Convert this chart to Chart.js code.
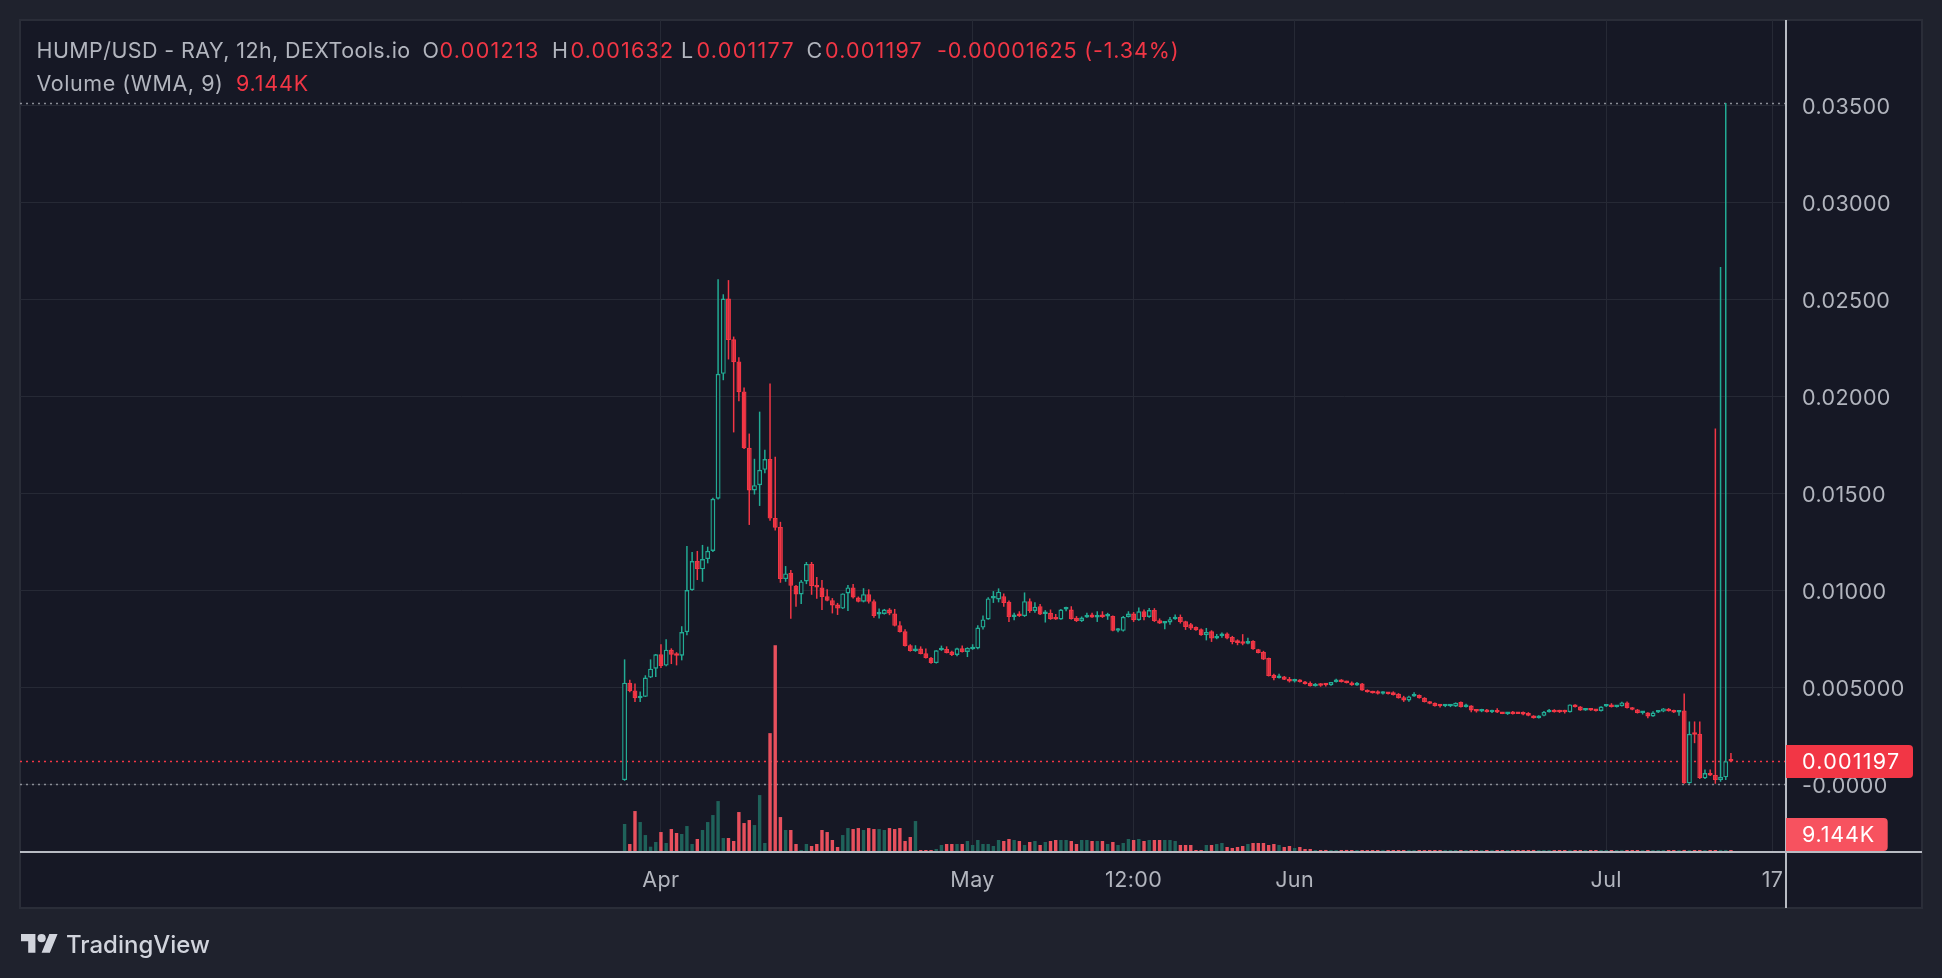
<!DOCTYPE html>
<html><head><meta charset="utf-8">
<script src="https://cdn.jsdelivr.net/npm/chart.js@4.4.1/dist/chart.umd.min.js"></script>
<style>html,body{margin:0;padding:0;background:#1f222d;overflow:hidden}canvas{display:block}</style>
</head><body>
<canvas id="c" width="1942" height="978"></canvas>
<script>
// ---------------- DATA ----------------
const symbolTitle = 'HUMP/USD - RAY, 12h, DEXTools.io';
const volumeTitle = 'Volume (WMA, 9)';
const firstCandle = '2024-03-28T12:00:00Z';   // 12h candles
const opens = [
0.00024,0.00526,0.00486,0.00446,0.00453,0.00552,0.00598,0.00672,0.00614,0.00696,
0.00674,0.00665,0.00787,0.01003,0.01153,0.01110,0.01163,0.01205,0.01474,0.02118,
0.02506,0.02296,0.02182,0.02027,0.01737,0.01517,0.01544,0.01623,0.01679,0.01375,
0.01329,0.01060,0.01093,0.01025,0.00981,0.01048,0.01138,0.01024,0.01017,0.00972,
0.00951,0.00929,0.00908,0.00986,0.01017,0.00965,0.00943,0.00982,0.00946,0.00877,
0.00880,0.00903,0.00883,0.00822,0.00791,0.00719,0.00689,0.00702,0.00677,0.00655,
0.00627,0.00693,0.00700,0.00686,0.00669,0.00703,0.00684,0.00698,0.00702,0.00810,
0.00852,0.00960,0.00955,0.00972,0.00943,0.00865,0.00877,0.00869,0.00946,0.00896,
0.00920,0.00880,0.00886,0.00865,0.00852,0.00903,0.00903,0.00860,0.00844,0.00862,
0.00877,0.00862,0.00874,0.00867,0.00869,0.00793,0.00793,0.00865,0.00882,0.00848,
0.00894,0.00865,0.00900,0.00848,0.00831,0.00836,0.00853,0.00865,0.00842,0.00827,
0.00813,0.00801,0.00770,0.00791,0.00753,0.00767,0.00780,0.00762,0.00744,0.00739,
0.00727,0.00741,0.00698,0.00684,0.00653,0.00567,0.00550,0.00558,0.00544,0.00532,
0.00541,0.00532,0.00524,0.00508,0.00521,0.00515,0.00512,0.00529,0.00541,0.00532,
0.00527,0.00512,0.00522,0.00490,0.00482,0.00479,0.00469,0.00476,0.00476,0.00469,
0.00451,0.00434,0.00455,0.00462,0.00448,0.00429,0.00422,0.00408,0.00405,0.00405,
0.00403,0.00426,0.00400,0.00408,0.00388,0.00377,0.00388,0.00374,0.00382,0.00374,
0.00365,0.00376,0.00372,0.00372,0.00369,0.00357,0.00343,0.00355,0.00374,0.00386,
0.00379,0.00381,0.00374,0.00414,0.00403,0.00383,0.00393,0.00388,0.00380,0.00403,
0.00412,0.00400,0.00405,0.00424,0.00398,0.00388,0.00369,0.00372,0.00352,0.00372,
0.00377,0.00391,0.00383,0.00372,0.00383,0.00007,0.00265,0.00262,0.00033,0.00060,
0.00050,0.00024,0.00038,0.001213];
const highs = [
0.00646,0.00541,0.00522,0.00481,0.00564,0.00646,0.00674,0.00724,0.00750,0.00703,
0.00683,0.00817,0.01231,0.01200,0.01205,0.01236,0.01227,0.01479,0.02606,0.02528,
0.02601,0.02310,0.02203,0.02048,0.01810,0.01680,0.01923,0.01727,0.02068,0.01691,
0.01355,0.01127,0.01107,0.01030,0.01055,0.01148,0.01148,0.01070,0.01055,0.01007,
0.00962,0.00937,0.00986,0.01029,0.01034,0.00970,0.01013,0.01007,0.00955,0.00908,
0.00906,0.00910,0.00906,0.00843,0.00801,0.00724,0.00719,0.00713,0.00702,0.00658,
0.00693,0.00717,0.00713,0.00690,0.00706,0.00717,0.00708,0.00724,0.00822,0.00872,
0.00966,0.00998,0.01012,0.00986,0.00950,0.00886,0.00894,0.00991,0.00960,0.00940,
0.00932,0.00900,0.00903,0.00880,0.00906,0.00917,0.00920,0.00869,0.00867,0.00886,
0.00886,0.00894,0.00894,0.00886,0.00872,0.00808,0.00869,0.00894,0.00890,0.00914,
0.00903,0.00911,0.00910,0.00857,0.00842,0.00865,0.00877,0.00877,0.00845,0.00834,
0.00816,0.00805,0.00808,0.00796,0.00777,0.00784,0.00784,0.00767,0.00749,0.00776,
0.00758,0.00745,0.00700,0.00690,0.00655,0.00572,0.00572,0.00560,0.00555,0.00546,
0.00544,0.00534,0.00532,0.00524,0.00524,0.00524,0.00530,0.00546,0.00544,0.00536,
0.00532,0.00529,0.00524,0.00491,0.00484,0.00486,0.00482,0.00477,0.00481,0.00472,
0.00458,0.00458,0.00477,0.00465,0.00451,0.00431,0.00424,0.00413,0.00413,0.00415,
0.00424,0.00429,0.00417,0.00410,0.00390,0.00391,0.00390,0.00386,0.00394,0.00375,
0.00375,0.00380,0.00374,0.00377,0.00374,0.00358,0.00358,0.00380,0.00390,0.00389,
0.00386,0.00386,0.00414,0.00415,0.00405,0.00395,0.00395,0.00390,0.00405,0.00415,
0.00420,0.00410,0.00427,0.00429,0.00400,0.00390,0.00380,0.00374,0.00379,0.00382,
0.00395,0.00395,0.00386,0.00384,0.00470,0.00326,0.00326,0.00326,0.00078,0.00078,
0.01836,0.02669,0.03514,0.001632];
const lows = [
0.00020,0.00477,0.00426,0.00426,0.00452,0.00550,0.00555,0.00601,0.00610,0.00622,
0.00615,0.00641,0.00770,0.01000,0.01055,0.01046,0.01141,0.01200,0.01470,0.02085,
0.02192,0.01816,0.01977,0.01730,0.01339,0.01496,0.01437,0.01606,0.01361,0.01310,
0.01041,0.01046,0.00855,0.00917,0.00931,0.01034,0.00979,0.00958,0.00901,0.00945,
0.00883,0.00875,0.00906,0.00896,0.00960,0.00940,0.00940,0.00934,0.00860,0.00857,
0.00877,0.00874,0.00816,0.00784,0.00713,0.00686,0.00685,0.00672,0.00651,0.00624,
0.00625,0.00690,0.00677,0.00664,0.00662,0.00682,0.00658,0.00695,0.00698,0.00800,
0.00850,0.00937,0.00940,0.00917,0.00839,0.00848,0.00865,0.00865,0.00886,0.00886,
0.00875,0.00836,0.00850,0.00850,0.00850,0.00894,0.00851,0.00839,0.00839,0.00860,
0.00860,0.00839,0.00860,0.00850,0.00791,0.00786,0.00790,0.00862,0.00839,0.00845,
0.00848,0.00860,0.00839,0.00829,0.00801,0.00824,0.00850,0.00831,0.00798,0.00798,
0.00793,0.00768,0.00744,0.00736,0.00750,0.00758,0.00750,0.00724,0.00719,0.00719,
0.00724,0.00696,0.00677,0.00643,0.00558,0.00538,0.00548,0.00540,0.00527,0.00527,
0.00527,0.00517,0.00506,0.00506,0.00505,0.00506,0.00510,0.00527,0.00527,0.00522,
0.00510,0.00510,0.00484,0.00475,0.00470,0.00465,0.00465,0.00465,0.00460,0.00444,
0.00427,0.00427,0.00453,0.00444,0.00424,0.00415,0.00403,0.00398,0.00400,0.00400,
0.00401,0.00398,0.00398,0.00374,0.00372,0.00374,0.00372,0.00370,0.00369,0.00364,
0.00360,0.00362,0.00364,0.00358,0.00353,0.00341,0.00341,0.00353,0.00372,0.00372,
0.00370,0.00367,0.00372,0.00398,0.00381,0.00381,0.00381,0.00377,0.00377,0.00401,
0.00398,0.00398,0.00403,0.00393,0.00384,0.00367,0.00362,0.00343,0.00350,0.00370,
0.00374,0.00377,0.00370,0.00355,0.00005,0.00005,0.00214,0.00030,0.00030,0.00045,
0.00005,0.00015,0.00024,0.001177];
const closes = [
0.00526,0.00482,0.00446,0.00455,0.00552,0.00598,0.00672,0.00612,0.00696,0.00670,
0.00665,0.00787,0.01003,0.01153,0.01110,0.01163,0.01205,0.01474,0.02118,0.02506,
0.02292,0.02178,0.02023,0.01734,0.01517,0.01544,0.01623,0.01679,0.01372,0.01325,
0.01060,0.01089,0.01025,0.00981,0.01048,0.01138,0.01024,0.01017,0.00968,0.00948,
0.00924,0.00908,0.00986,0.01017,0.00965,0.00943,0.00982,0.00943,0.00870,0.00886,
0.00903,0.00883,0.00819,0.00787,0.00715,0.00689,0.00702,0.00674,0.00653,0.00627,
0.00693,0.00698,0.00679,0.00669,0.00703,0.00684,0.00705,0.00707,0.00810,0.00852,
0.00960,0.00969,0.00995,0.00937,0.00865,0.00874,0.00869,0.00946,0.00896,0.00917,
0.00877,0.00886,0.00853,0.00852,0.00903,0.00908,0.00853,0.00844,0.00862,0.00874,
0.00862,0.00874,0.00865,0.00872,0.00793,0.00800,0.00865,0.00882,0.00848,0.00894,
0.00865,0.00900,0.00844,0.00831,0.00839,0.00853,0.00865,0.00839,0.00813,0.00805,
0.00796,0.00770,0.00787,0.00753,0.00767,0.00780,0.00753,0.00736,0.00731,0.00727,
0.00741,0.00698,0.00679,0.00645,0.00560,0.00550,0.00558,0.00541,0.00532,0.00541,
0.00529,0.00519,0.00508,0.00521,0.00510,0.00512,0.00529,0.00541,0.00529,0.00524,
0.00512,0.00526,0.00486,0.00477,0.00472,0.00469,0.00479,0.00467,0.00462,0.00446,
0.00434,0.00455,0.00465,0.00446,0.00426,0.00417,0.00405,0.00405,0.00410,0.00410,
0.00422,0.00400,0.00412,0.00383,0.00377,0.00386,0.00374,0.00382,0.00372,0.00365,
0.00374,0.00365,0.00365,0.00362,0.00355,0.00343,0.00357,0.00376,0.00386,0.00374,
0.00374,0.00374,0.00414,0.00400,0.00383,0.00393,0.00383,0.00380,0.00403,0.00412,
0.00400,0.00408,0.00424,0.00395,0.00386,0.00369,0.00376,0.00352,0.00372,0.00379,
0.00393,0.00379,0.00372,0.00383,0.00007,0.00262,0.00258,0.00033,0.00060,0.00048,
0.00024,0.00041,0.00121325,0.001197];
const volumes = [   // K
127.9,36.5,187.2,137.0,77.6,24.2,45.7,91.3,41.1,105.0,
86.8,82.2,118.7,36.5,59.4,100.5,137.0,169.0,232.9,63.9,
63.9,50.2,182.7,132.4,146.1,123.3,260.3,41.1,543.5,945.4,
159.8,100.5,100.5,36.5,9.1,36.5,27.4,36.5,100.5,91.3,
54.8,22.8,77.6,109.6,105.0,109.6,100.5,109.6,105.0,105.0,
100.5,109.6,105.0,109.6,50.2,68.5,141.6,9.1,9.1,9.1,
13.7,32.0,36.5,36.5,36.5,36.5,50.2,32.0,54.8,36.5,
36.5,27.4,54.8,50.2,59.4,54.8,50.2,32.0,45.7,50.2,
32.0,45.7,50.2,54.8,54.8,54.8,50.2,36.5,54.8,54.8,
50.2,50.2,50.2,36.5,45.7,32.0,41.1,59.4,54.8,59.4,
50.2,54.8,54.8,54.8,54.8,54.8,50.2,32.0,32.0,32.0,
9.1,9.1,32.0,32.0,36.5,41.1,22.8,18.3,22.8,27.4,
36.5,41.1,41.1,41.1,32.0,36.5,32.0,22.8,27.4,18.3,
22.8,13.7,13.7,9.1,9.1,9.4,9.1,8.8,9.1,9.4,
9.1,9.1,9.1,8.8,9.1,9.1,9.4,9.1,9.1,9.1,
9.1,9.4,9.1,9.1,8.8,9.1,9.1,9.1,9.4,9.1,
9.1,9.1,9.1,9.1,8.8,9.1,9.1,9.4,9.1,9.1,
9.1,9.1,9.1,9.1,9.1,9.4,9.1,9.1,9.1,8.8,
9.1,9.1,9.4,9.1,9.1,9.1,9.1,9.1,9.1,9.1,
9.1,9.1,9.4,9.1,9.1,9.1,8.8,9.1,9.1,9.1,
9.1,9.1,9.1,9.1,9.4,9.1,9.1,9.1,9.1,9.1,
9.1,9.4,9.4,9.144];
const timeTickDates = ['2024-04-01T00:00:00Z','2024-05-01T00:00:00Z','2024-05-16T12:00:00Z','2024-06-01T00:00:00Z','2024-07-01T00:00:00Z','2024-07-17T00:00:00Z'];
const timeTickLabels = ['Apr','May','12:00','Jun','Jul','17'];
const priceTicks = [0, 0.005, 0.01, 0.015, 0.02, 0.025, 0.03, 0.035];
const priceTickLabels = ['-0.0000','0.005000','0.01000','0.01500','0.02000','0.02500','0.03000','0.03500'];

// ---------------- STYLE ----------------
const UP='#22ab94', DOWN='#f23645', VUP='#1f625a', VDOWN='#e8505d';
const PANEL='#161825', OUTER='#1f222d', GRID='#262935', TEXT='#b2b5be', SCALELINE='#b8bbc3';
const FONT='Inter', FS=21.5;

const DAY0 = Date.parse(timeTickDates[0]);
const toDay = t => (Date.parse(t) - DAY0) / 864e5;
const candleTimes = opens.map((_, i) => new Date(Date.parse(firstCandle) + i * 12 * 3600e3).toISOString());
const xs = candleTimes.map(toDay);
const tickDays = timeTickDates.map(toDay);
const isUp = opens.map((o, i) => closes[i] >= o);
const last = closes.length - 1;

function dotted(ctx, x0, x1, y, color) {
  ctx.save(); ctx.strokeStyle = color; ctx.lineWidth = 1.3; ctx.setLineDash([2, 4]);
  ctx.beginPath(); ctx.moveTo(x0, Math.round(y) + 0.5); ctx.lineTo(x1, Math.round(y) + 0.5); ctx.stroke(); ctx.restore();
}
function box(ctx, x, y, w, h, r, color) {
  ctx.beginPath(); ctx.moveTo(x, y); ctx.lineTo(x + w - r, y); ctx.quadraticCurveTo(x + w, y, x + w, y + r);
  ctx.lineTo(x + w, y + h - r); ctx.quadraticCurveTo(x + w, y + h, x + w - r, y + h); ctx.lineTo(x, y + h); ctx.closePath();
  ctx.fillStyle = color; ctx.fill();
}

const decor = {
  id: 'decor',
  beforeDraw(chart) {
    const c = chart.ctx; c.save();
    c.fillStyle = OUTER; c.fillRect(0, 0, chart.width, chart.height);
    c.fillStyle = PANEL; c.fillRect(20, 20, 1902, 888);
    c.strokeStyle = '#2a2d38'; c.lineWidth = 2; c.strokeRect(20, 20, 1902, 888);
    c.restore();
    c.letterSpacing = '0.4px';
  },
  beforeDatasetsDraw(chart) {
    const c = chart.ctx, a = chart.chartArea, y = chart.scales.y;
    dotted(c, a.left, a.right, y.getPixelForValue(Math.max(...highs)), '#8a8d96');
    dotted(c, a.left, a.right, y.getPixelForValue(Math.min(...lows)), '#8a8d96');
    dotted(c, a.left, a.right, y.getPixelForValue(closes[last]), DOWN);
  },
  afterDraw(chart) {
    const c = chart.ctx, a = chart.chartArea, y = chart.scales.y, yv = chart.scales.yVol;
    c.save();
    // scale borders
    c.fillStyle = SCALELINE;
    c.fillRect(a.right - 1, 20, 2, 888);
    c.fillRect(20, a.bottom - 1, 1902, 2);
    // price label
    c.font = `${FS}px ${FONT}`; c.textBaseline = 'middle'; c.textAlign = 'left';
    const py = y.getPixelForValue(closes[last]);
    box(c, a.right, py - 16.5, 127, 33, 4, DOWN);
    c.letterSpacing = '1.25px';
    c.fillStyle = '#ffffff'; c.fillText(closes[last].toFixed(6), a.right + 16, py + 1);
    // volume label
    const vy = Math.min(yv.getPixelForValue(volumes[last]), a.bottom - 17.5);
    box(c, a.right, vy - 16.5, 101.7, 33, 4, '#f7525f');
    c.letterSpacing = '0.8px';
    c.fillStyle = '#ffffff'; c.fillText(volumes[last].toFixed(3) + 'K', a.right + 16, vy + 1);
    // legend
    c.textBaseline = 'alphabetic';
    const pc = closes[last - 1], ch = closes[last] - pc;
    const seg = (t, x, yy, col, ls) => { c.letterSpacing = ls + 'px'; c.fillStyle = col; c.fillText(t, x, yy); };
    seg(symbolTitle, 36.5, 58, TEXT, 0.4);
    seg('O', 422.5, 58, TEXT, 0); seg(opens[last].toFixed(6), 439.5, 58, DOWN, 1.3);
    seg('H', 552, 58, TEXT, 0); seg(highs[last].toFixed(6), 570.5, 58, DOWN, 1.2);
    seg('L', 681, 58, TEXT, 0); seg(lows[last].toFixed(6), 696.5, 58, DOWN, 1.3);
    seg('C', 806.5, 58, TEXT, 0); seg(closes[last].toFixed(6), 825, 58, DOWN, 1.2);
    seg(ch.toFixed(8) + ' (' + (ch / pc * 100).toFixed(2) + '%)', 937, 58, DOWN, 0.85);
    seg(volumeTitle, 36.5, 91, TEXT, 0.55); seg(volumes[last].toFixed(3) + 'K', 236, 91, DOWN, 0.8);
    // TradingView logo
    c.save(); c.translate(21, 930); c.scale(1.03, 1.03); c.fillStyle = '#d1d4dc';
    c.fill(new Path2D('M14 22H7V11H0V4h14v18zM28 22h-8l7.5-18h8L28 22z'));
    c.beginPath(); c.arc(20, 8, 4, 0, Math.PI * 2); c.fill(); c.restore();
    c.letterSpacing = '0px';
    c.font = `500 24px ${FONT}`; c.fillStyle = '#d1d4dc'; c.fillText('TradingView', 66, 953);
    c.restore();
    c.letterSpacing = '0px';
  }
};

new Chart(document.getElementById('c'), {
  type: 'bar',
  data: { datasets: [
    { label: 'Volume', yAxisID: 'yVol', order: 4, grouped: false, barThickness: 3.4, inflateAmount: 0,
      data: xs.map((x, i) => ({ x, y: volumes[i] })), backgroundColor: isUp.map(u => u ? VUP : VDOWN) },
    { label: 'Wick', yAxisID: 'y', order: 3, grouped: false, barThickness: 1.5, inflateAmount: 0,
      data: xs.map((x, i) => ({ x, y: [lows[i], highs[i]] })), backgroundColor: isUp.map(u => u ? UP : DOWN) },
    { label: 'Body', yAxisID: 'y', order: 2, grouped: false, barThickness: 4.9, inflateAmount: 0, minBarLength: 2.5,
      borderWidth: 1.4, borderSkipped: false,
      data: xs.map((x, i) => ({ x, y: [opens[i], closes[i]] })),
      backgroundColor: isUp.map(u => u ? PANEL : DOWN), borderColor: isUp.map(u => u ? UP : DOWN) }
  ]},
  options: {
    responsive: false, animation: false, devicePixelRatio: 1,
    layout: { padding: { left: 20, top: 20, right: 20, bottom: 70 } },
    plugins: { legend: { display: false }, tooltip: { enabled: false } },
    scales: {
      x: { type: 'linear', position: 'bottom', min: -61.7, max: 108.3, offset: false,
        grid: { color: GRID, drawTicks: false, offset: false }, border: { display: false },
        afterBuildTicks: s => { s.ticks = tickDays.map(v => ({ value: v })); },
        afterFit: s => { s.height = 56; s.paddingLeft = 0; s.paddingRight = 0; },
        ticks: { color: TEXT, font: { family: FONT, size: FS }, padding: 16, maxRotation: 0, autoSkip: false,
          callback: v => timeTickLabels[tickDays.indexOf(v)] } },
      y: { type: 'linear', position: 'right', min: -0.003469, max: 0.039418,
        grid: { color: GRID, drawTicks: false }, border: { display: false },
        afterBuildTicks: s => { s.ticks = priceTicks.map(v => ({ value: v })); },
        afterFit: s => { s.width = 136; s.paddingTop = 0; s.paddingBottom = 0; },
        ticks: { color: TEXT, font: { family: FONT, size: FS }, padding: 16, labelOffset: 2,
          callback: v => priceTickLabels[priceTicks.indexOf(v)] } },
      yVol: { type: 'linear', display: false, min: 0, max: 3804,
        afterFit: s => { s.paddingTop = 0; s.paddingBottom = 0; } }
    }
  },
  plugins: [decor]
});
</script>
</body></html>
